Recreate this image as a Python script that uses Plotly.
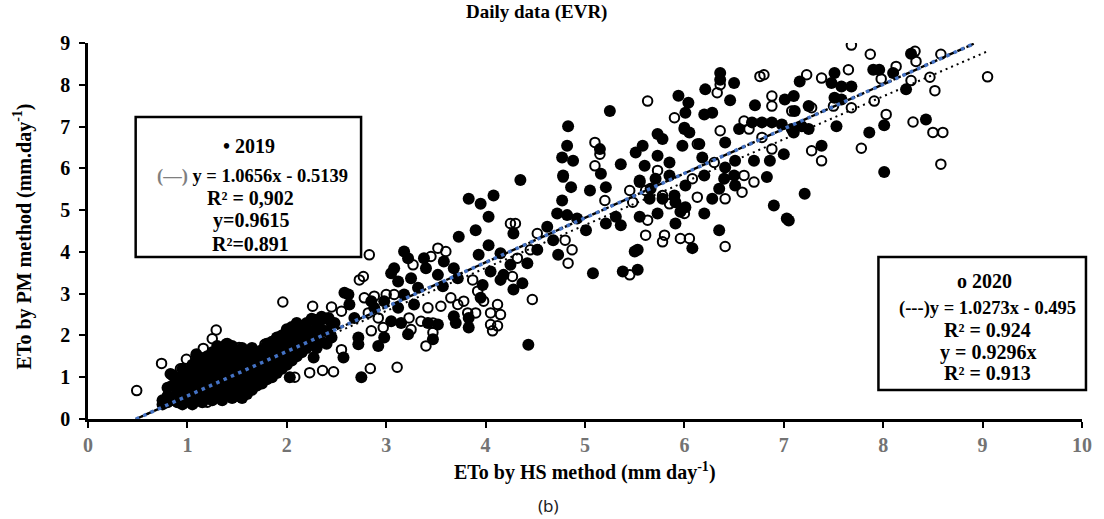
import plotly.graph_objects as go

# ---------------- data ----------------
# 2019 daily points (HS method, PM method) – filled circles
eto_2019_cluster = [
    (0.75,0.35),(0.75,0.45),(0.8,0.4),(0.8,0.55),(0.8,0.75),(0.85,0.5),(0.85,0.8),(0.85,1.05),
    (0.9,0.4),(0.9,0.6),(0.9,0.9),(0.95,0.35),(0.95,0.55),(0.95,0.75),(0.95,1.0),(0.95,1.2),
    (1.0,0.45),(1.0,0.65),(1.0,0.85),(1.0,1.1),(1.05,0.35),(1.05,0.55),(1.05,0.8),(1.05,1.0),(1.05,1.3),
    (1.1,0.5),(1.1,0.7),(1.1,0.95),(1.1,1.2),(1.1,1.45),(1.15,0.4),(1.15,0.6),(1.15,0.85),(1.15,1.1),(1.15,1.35),
    (1.2,0.5),(1.2,0.7),(1.2,0.95),(1.2,1.2),(1.2,1.5),(1.25,0.45),(1.25,0.65),(1.25,0.9),(1.25,1.15),(1.25,1.4),(1.25,1.6),
    (1.3,0.55),(1.3,0.8),(1.3,1.05),(1.3,1.3),(1.3,1.55),(1.3,1.75),(1.35,0.45),(1.35,0.7),(1.35,0.95),(1.35,1.2),(1.35,1.45),(1.35,1.7),
    (1.4,0.6),(1.4,0.85),(1.4,1.1),(1.4,1.35),(1.4,1.6),(1.4,1.8),(1.45,0.5),(1.45,0.75),(1.45,1.0),(1.45,1.25),(1.45,1.5),(1.45,1.75),
    (1.5,0.55),(1.5,0.8),(1.5,1.05),(1.5,1.3),(1.5,1.55),(1.55,0.5),(1.55,0.7),(1.55,0.95),(1.55,1.2),(1.55,1.45),(1.55,1.7),
    (1.6,0.6),(1.6,0.85),(1.6,1.1),(1.6,1.35),(1.6,1.6),(1.65,0.7),(1.65,0.9),(1.65,1.2),(1.65,1.5),(1.65,1.7),
    (1.7,0.8),(1.7,1.0),(1.7,1.3),(1.7,1.6),(1.75,0.85),(1.75,1.1),(1.75,1.4),(1.75,1.65),
    (1.8,0.95),(1.8,1.2),(1.8,1.5),(1.8,1.8),(1.85,1.0),(1.85,1.3),(1.85,1.6),(1.85,1.85),
    (1.9,1.1),(1.9,1.4),(1.9,1.7),(1.9,1.95),(1.95,1.2),(1.95,1.5),(1.95,1.8),(1.95,2.0),
    (2.0,1.3),(2.0,1.6),(2.0,1.9),(2.0,2.15),(2.05,1.4),(2.05,1.7),(2.05,2.0),(2.05,2.2),
    (2.1,1.5),(2.1,1.8),(2.1,2.1),(2.1,2.3),(2.15,1.6),(2.15,1.9),(2.15,2.2),(2.2,1.7),(2.2,2.0),(2.2,2.3),
    (2.25,1.85),(2.25,2.1),(2.25,2.4),(2.3,1.7),(2.3,2.0),(2.3,2.3),(2.35,1.85),(2.35,2.45),
    (2.4,1.8),(2.4,2.1),(2.4,2.4),(2.45,2.3),
    (0.83,1.08),(1.09,1.55),(1.39,1.79),(1.64,1.67),(1.92,1.91),(2.05,2.11),(2.13,2.22),(2.32,2.26),
    (2.42,2.42),(2.03,1.0),(2.27,1.47),(1.85,1.08),(2.75,1.0),(2.57,1.47),
]
eto_2019_mid = [
    (3.73,4.36),(3.68,2.46),(3.57,3.18),(3.52,3.45),(3.58,3.77),(3.38,3.85),(3.40,3.61),(3.18,4.01),
    (3.22,3.85),(3.08,3.61),(3.05,3.49),(3.12,3.29),(3.25,3.37),(3.32,3.14),(3.18,2.98),(3.28,2.74),
    (3.12,2.66),(3.15,2.30),(3.22,2.03),(2.98,1.95),(3.05,2.34),(2.88,2.66),(2.98,2.82),(2.85,2.82),
    (2.62,2.98),(2.58,3.02),(2.63,2.74),(2.68,2.42),(2.48,2.30),(2.35,2.14),(2.18,2.19),(2.45,1.95),
    (2.72,1.95),(2.92,1.75),(2.72,1.79),(3.42,2.30),(3.52,2.26),(3.47,1.91),(3.70,2.30),(3.68,3.61),
    (3.72,3.37),(4.18,3.45),(4.25,3.69),(3.97,3.21),(3.83,2.19),(4.43,1.78),
    (5.25,7.37),(4.83,7.01),(4.82,6.54),(4.77,6.26),(4.88,6.18),(4.78,5.83),(4.86,5.55),(4.77,5.23),
    (4.35,5.72),(5.15,6.46),(5.16,5.87),(5.05,5.47),(5.21,5.55),(5.36,6.10),(5.51,6.38),(5.55,5.71),
    (5.66,5.51),(5.78,5.27),(5.90,5.35),(5.96,4.96),(5.73,4.92),(4.72,4.92),(4.82,4.88),(4.92,4.80),
    (5.01,4.52),(5.21,4.68),(5.36,4.64),(5.31,4.84),(4.62,4.60),(4.68,4.28),(4.73,3.93),(5.08,3.49),
    (5.38,3.53),(5.50,4.01),(4.52,4.05),(4.42,3.73),(4.15,3.97),(4.03,4.16),(3.93,3.93),(4.28,4.44),
    (3.90,4.52),(4.03,4.84),(3.95,5.15),(4.08,5.35),(3.83,5.27),(4.05,3.53),(4.15,3.33),(4.28,3.10),
    (4.37,3.25),(3.95,2.90),(3.83,2.42),
]
eto_2019_high = [
    (6.36,8.28),(6.36,8.12),(6.50,8.04),(6.21,7.89),(5.94,7.74),(6.04,7.57),(6.46,7.63),(6.01,7.33),
    (6.20,7.29),(6.28,7.33),(6.71,7.51),(7.01,7.65),(7.10,7.73),(7.16,8.08),(7.51,8.28),(7.48,8.04),
    (7.58,7.96),(7.68,7.96),(7.51,7.69),(7.58,7.65),(7.25,7.49),(7.11,7.37),(6.00,6.94),(6.05,6.86),
    (5.73,6.82),(5.78,6.70),(5.58,6.54),(5.98,6.54),(6.15,6.58),(6.41,6.62),(6.55,6.94),(6.68,7.10),
    (6.78,7.10),(6.88,7.10),(6.98,7.05),(7.08,6.94),(7.18,7.01),(7.25,6.94),(7.53,7.01),(7.38,6.54),
    (5.73,6.30),(5.85,6.14),(5.60,6.06),(6.18,6.26),(6.41,6.02),(6.51,6.18),(6.70,6.18),(6.86,6.18),
    (7.00,6.34),(6.83,5.79),(6.50,5.83),(6.40,5.75),(6.20,5.83),(5.85,5.83),(5.71,5.75),(5.55,5.67),
    (6.01,5.59),(5.65,5.27),(5.91,5.19),(6.28,5.27),(6.35,5.51),(6.51,5.59),(6.20,4.92),(6.01,5.07),
    (5.91,4.68),(5.55,4.84),(5.53,4.05),(5.53,3.57),(6.08,4.09),(6.35,4.52),(6.90,5.11),(7.03,4.80),
    (7.05,4.75),(7.21,5.39),(8.28,8.74),(7.90,8.36),(7.96,8.36),(8.10,8.28),(8.23,7.89),(7.10,6.86),
    (7.86,6.86),(8.01,7.03),(8.43,7.17),(8.01,5.91),
]

# 2020 daily points – open circles
eto_2020_low = [
    (0.49,0.68),(0.74,1.33),(1.29,2.13),(1.25,1.92),(1.16,1.69),(0.99,1.43),(1.52,1.71),(1.78,1.79),
    (1.96,2.80),(2.26,2.70),(2.28,2.38),(2.45,2.68),(2.23,1.11),(2.36,1.16),(2.47,1.13),(2.08,1.0),
    (1.20,0.40),(0.84,0.64),(0.93,1.2),(1.0,0.8),(1.2,1.0),(1.4,0.9),(1.5,1.2),(1.3,0.6),(1.6,1.0),
    (1.1,0.5),(1.55,0.6),(1.7,1.3),(1.9,1.5),(1.35,1.4),(1.05,1.1),(0.9,0.7),(1.45,0.55),(1.8,1.1),
    (2.0,1.7),(2.1,2.0),(1.25,1.25),(1.65,1.55),(0.85,0.45),(2.84,1.21),(3.11,1.24),(2.55,1.66),
]
eto_2020_mid = [
    (2.83,3.93),(2.55,2.58),(2.73,3.33),(2.77,3.41),(2.78,2.90),(2.88,2.94),(3.0,2.98),(3.08,2.98),
    (2.82,2.54),(2.92,2.42),(2.97,2.19),(2.85,2.11),(3.25,2.14),(3.23,2.42),(3.42,2.66),(3.35,2.34),
    (3.47,2.30),(3.40,1.75),(3.47,2.07),(3.52,4.09),(3.60,4.01),(3.45,3.89),(3.27,3.69),(3.55,2.70),
    (3.65,2.90),(3.72,2.74),(3.78,2.82),(3.82,2.54),(3.87,3.33),(3.92,3.06),(3.90,2.54),(3.98,2.82),
    (4.05,2.54),(4.12,2.74),(4.15,2.50),(4.12,2.23),(4.05,2.26),(4.07,2.11),(4.27,3.41),(4.25,4.68),
    (4.30,4.68),(4.32,3.85),(5.63,7.61),(5.90,7.21),(5.10,6.62),(5.10,6.06),(5.15,6.34),(4.78,5.79),
    (5.20,5.23),(5.45,5.47),(5.48,5.19),(5.61,5.47),(5.78,5.35),(5.85,5.15),(5.63,4.76),(5.61,4.40),
    (5.80,4.40),(5.78,4.24),(5.96,4.32),(4.52,4.44),(4.45,4.05),(4.80,4.28),(4.87,4.05),(4.83,3.73),
    (4.47,2.86),(5.45,3.45),
]
eto_2020_high = [
    (6.00,6.98),(6.33,7.81),(6.36,8.0),(6.76,8.20),(6.80,8.24),(7.23,8.24),(7.38,8.16),(7.65,8.36),
    (7.68,8.95),(6.88,7.73),(6.88,7.49),(7.08,7.37),(7.28,7.45),(7.50,7.49),(7.68,7.45),(6.60,7.13),
    (6.65,6.94),(6.36,6.90),(6.78,6.74),(6.13,6.58),(6.88,6.46),(7.28,6.42),(7.38,6.18),(6.30,6.14),
    (5.73,5.95),(6.08,5.75),(6.60,5.83),(6.70,5.67),(6.58,5.43),(6.41,5.27),(6.13,5.31),(6.00,4.92),
    (6.05,4.32),(6.41,4.13),(7.87,8.73),(8.32,8.80),(8.33,8.56),(8.58,8.73),(9.05,8.19),(8.13,8.44),
    (7.98,8.14),(8.28,8.10),(8.47,8.18),(8.52,7.86),(7.91,7.61),(8.03,7.29),(8.30,7.11),(8.50,6.86),
    (8.60,6.86),(8.58,6.10),(7.78,6.48),
]

# regression coefficients shown in the boxes
slope_2019, icpt_2019 = 1.0656, -0.5139
slope_2020, icpt_2020 = 1.0273, -0.495

x_ticks = list(range(0, 11))
y_ticks = list(range(0, 10))

# ---------------- build ----------------
pts19 = eto_2019_cluster + eto_2019_mid + eto_2019_high
pts20 = eto_2020_low + eto_2020_mid + eto_2020_high
hs19 = [p[0] for p in pts19]; pm19 = [p[1] for p in pts19]
hs20 = [p[0] for p in pts20]; pm20 = [p[1] for p in pts20]

x_max, y_max = 10, 9
# 2019 fit, clipped to the plot (y from 0 to 9)
l19_x = [-icpt_2019 / slope_2019, (y_max - icpt_2019) / slope_2019]
l19_y = [slope_2019 * v + icpt_2019 for v in l19_x]
# 2020 fit, from y=0 to the largest HS value of 2020
l20_x = [-icpt_2020 / slope_2020, max(hs20)]
l20_y = [slope_2020 * v + icpt_2020 for v in l20_x]

SERIF = "Liberation Serif"
fig = go.Figure()
fig.add_trace(go.Scatter(x=hs19, y=pm19, mode="markers", name="2019",
                         marker=dict(symbol="circle", size=12, color="black", line=dict(width=0))))
fig.add_trace(go.Scatter(x=hs20, y=pm20, mode="markers", name="2020",
                         marker=dict(symbol="circle-open", size=9.5, color="black", line=dict(width=2))))
fig.add_trace(go.Scatter(x=l20_x, y=l20_y, mode="lines",
                         line=dict(color="black", width=2, dash="2px,4px")))
fig.add_trace(go.Scatter(x=l19_x, y=l19_y, mode="lines",
                         line=dict(color="black", width=2.4, dash="8px,2px")))
fig.add_trace(go.Scatter(x=l19_x, y=l19_y, mode="lines",
                         line=dict(color="#4472C4", width=3.5, dash="3.5px,4.5px")))

# pixel -> paper helpers (plot area 88..1089 x 43..419 in the page)
L, R, T, B = 88, 1089, 43, 419
W, H = 1104, 519
def px(x): return (x - L) / (R - L)
def py(y): return (B - y) / (B - T)

shapes = [
    dict(type="rect", xref="paper", yref="paper", x0=px(136), x1=px(363), y0=py(257), y1=py(117),
         line=dict(color="black", width=2.5), fillcolor="white", layer="above"),
    dict(type="rect", xref="paper", yref="paper", x0=px(884), x1=px(1093), y0=py(390), y1=py(257),
         line=dict(color="black", width=2.5), fillcolor="white", layer="above"),
]

def ann(text, x, y, size, color="black", family=SERIF, angle=0):
    return dict(text=text, xref="paper", yref="paper", x=px(x), y=py(y), showarrow=False,
                xanchor="center", yanchor="middle", textangle=angle,
                font=dict(family=family, size=size, color=color))

annotations = [
    ann("<b>Daily data (EVR)</b>", 540, 12, 19),
    ann("<b>ETo by HS method (mm day<sup>-1</sup>)</b>", 589, 471, 20),
    ann("<b>ETo by PM method (mm.day<sup>-1</sup>)</b>", 22, 236, 20, angle=-90),
    ann("(b)", 552, 505, 17, color="#222222", family="Noto Sans"),
    ann("<b>• 2019</b>", 250, 146, 20),
    ann("<span style='color:#7f7f7f'><b>(—)</b></span><b> y = 1.0656x - 0.5139</b>", 254, 176, 18.5),
    ann("<b>R² = 0,902</b>", 252, 198, 20),
    ann("<b>y=0.9615</b>", 252, 220, 20),
    ann("<b>R²=0.891</b>", 252, 244, 20),
    ann("<b>o 2020</b>", 991, 281, 20),
    ann("<b>(---)y = 1.0273x - 0.495</b>", 994, 308, 18.5),
    ann("<b>R² = 0.924</b>", 994, 330, 20),
    ann("<b>y = 0.9296x</b>", 994, 352, 20),
    ann("<b>R² = 0.913</b>", 994, 373, 20),
]

fig.update_layout(
    width=W, height=H, showlegend=False,
    margin=dict(l=L, r=W - R, t=T, b=H - B),
    paper_bgcolor="white", plot_bgcolor="white",
    shapes=shapes, annotations=annotations,
    xaxis=dict(range=[0, x_max], tickvals=x_ticks, showline=True, linecolor="black", linewidth=2.5,
               ticks="outside", ticklen=6, tickwidth=2, tickcolor="black", showgrid=False, zeroline=False,
               tickfont=dict(family=SERIF, size=20, color="#737373", weight="bold")),
    yaxis=dict(range=[0, y_max], tickvals=y_ticks, showline=True, linecolor="black", linewidth=2.5,
               ticks="outside", ticklen=6, tickwidth=2, tickcolor="black", showgrid=False, zeroline=False,
               ticklabelstandoff=5,
               tickfont=dict(family=SERIF, size=20, color="black", weight="bold")),
)

fig.write_html("out.html", config={"displayModeBar": False},
               post_script="document.body.style.margin='0';document.body.style.overflow='hidden';")
